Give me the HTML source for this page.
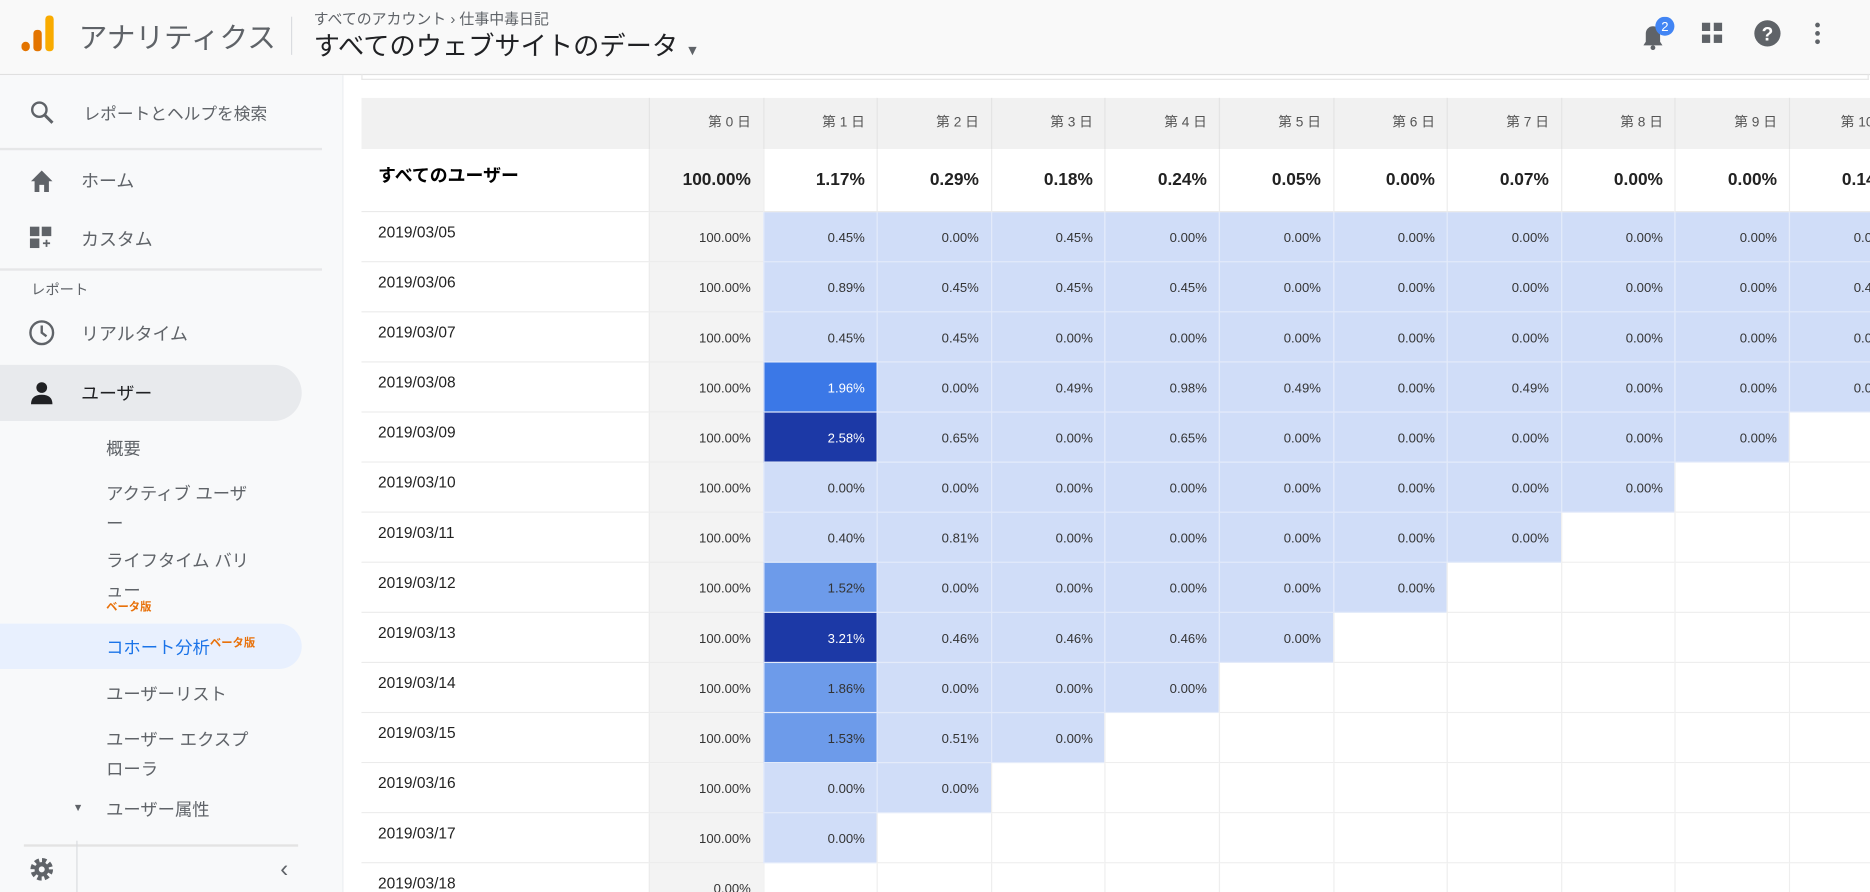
<!DOCTYPE html>
<html><head><meta charset="utf-8">
<style>
html,body{margin:0;padding:0;width:1870px;height:892px;overflow:hidden;background:#fff;}
#wrap{position:absolute;left:0;top:0;width:1568px;height:748px;transform:scale(1.19260,1.19251);transform-origin:0 0;font-family:"Liberation Sans","Noto Sans CJK JP",sans-serif;color:#202124;}
.a{position:absolute;white-space:nowrap;}
.nav{font-size:15px;color:#5f6368;}
.sub{font-size:14.5px;color:#5f6368;}
.cell{position:absolute;box-sizing:border-box;font-size:11px;text-align:right;padding-right:10px;color:#333;}
</style></head><body>
<div id="wrap">
<!-- header -->
<div class="a" style="left:0;top:0;width:1568px;height:62px;background:#f9f9f9;border-bottom:1px solid #e0e0e0;"></div>
<svg class="a" style="left:18px;top:13px" width="30" height="32"><rect x="0" y="22" width="7" height="8" rx="3.5" fill="#e37400"/><rect x="10" y="12" width="7" height="18" rx="3" fill="#e37400"/><rect x="20" y="0" width="7" height="30" rx="3" fill="#f9ab00"/></svg>
<div class="a" style="left:66px;top:12px;font-size:24px;color:#5f6368;">アナリティクス</div>
<div class="a" style="left:244px;top:14px;width:1px;height:32px;background:#dadce0;"></div>
<div class="a" style="left:263px;top:5px;font-size:12.5px;color:#5f6368;">すべてのアカウント › 仕事中毒日記</div>
<div class="a" style="left:263px;top:21px;font-size:22px;color:#202124;">すべてのウェブサイトのデータ <span style="font-size:12px;color:#5f6368">▼</span></div>
<svg class="a" style="left:1374px;top:14px" width="32" height="28"><path d="M4 24h16l-2-3v-7a6 6 0 0 0-12 0v7z" fill="#5f6368"/><circle cx="12" cy="26" r="2" fill="#5f6368"/><circle cx="22" cy="8" r="8" fill="#4285f4"/><text x="22" y="12" font-size="11" fill="#fff" text-anchor="middle" font-family="Liberation Sans">2</text></svg>
<svg class="a" style="left:1427px;top:19px" width="18" height="18"><rect x="0" y="0" width="7" height="7" fill="#5f6368"/><rect x="10" y="0" width="7" height="7" fill="#5f6368"/><rect x="0" y="10" width="7" height="7" fill="#5f6368"/><rect x="10" y="10" width="7" height="7" fill="#5f6368"/></svg>
<svg class="a" style="left:1470px;top:16px" width="24" height="24"><circle cx="12" cy="12" r="11" fill="#5f6368"/><text x="12" y="18" font-size="16" font-weight="bold" fill="#fff" text-anchor="middle" font-family="Liberation Sans">?</text></svg>
<svg class="a" style="left:1520px;top:18px" width="8" height="20"><circle cx="4" cy="3" r="2" fill="#5f6368"/><circle cx="4" cy="10" r="2" fill="#5f6368"/><circle cx="4" cy="17" r="2" fill="#5f6368"/></svg>
<!-- sidebar -->
<div class="a" style="left:0;top:63px;width:287px;height:685px;background:#f8f9fa;border-right:1px solid #eceff1;"></div>
<svg class="a" style="left:25px;top:84px" width="22" height="22"><circle cx="8" cy="8" r="6" fill="none" stroke="#5f6368" stroke-width="2"/><line x1="12.5" y1="12.5" x2="19" y2="19" stroke="#5f6368" stroke-width="2.5"/></svg>
<div class="a sub" style="left:70px;top:85px;font-size:14px;">レポートとヘルプを検索</div>
<div class="a" style="left:0;top:124px;width:270px;height:2px;background:#e6e7e8;"></div>
<svg class="a" style="left:25px;top:142px" width="20" height="20"><path d="M10 1 L19 10 H16 V19 H12 V13 H8 V19 H4 V10 H1Z" fill="#5f6368"/></svg>
<div class="a nav" style="left:68px;top:141px;">ホーム</div>
<svg class="a" style="left:25px;top:190px" width="20" height="20"><rect x="0" y="0" width="8" height="8" fill="#5f6368"/><rect x="10" y="0" width="8" height="8" fill="#5f6368"/><rect x="0" y="10" width="8" height="8" fill="#5f6368"/><path d="M14 11v6M11 14h6" stroke="#5f6368" stroke-width="1.5"/></svg>
<div class="a nav" style="left:68px;top:190px;">カスタム</div>
<div class="a" style="left:0;top:225px;width:270px;height:2px;background:#e6e7e8;"></div>
<div class="a" style="left:26px;top:234px;font-size:12px;color:#5f6368;">レポート</div>
<svg class="a" style="left:24px;top:268px" width="22" height="22"><circle cx="11" cy="11" r="9.5" fill="none" stroke="#5f6368" stroke-width="2"/><path d="M11 5v6l4 3" fill="none" stroke="#5f6368" stroke-width="2"/></svg>
<div class="a nav" style="left:68px;top:269px;">リアルタイム</div>
<div class="a" style="left:0;top:306px;width:253px;height:47px;background:#e8eaed;border-radius:0 24px 24px 0;"></div>
<svg class="a" style="left:26px;top:320px" width="18" height="20"><circle cx="9" cy="5" r="4.5" fill="#202124"/><path d="M0 19 Q0 11 9 11 Q18 11 18 19Z" fill="#202124"/></svg>
<div class="a nav" style="left:68px;top:319px;color:#202124;">ユーザー</div>
<div class="a sub" style="left:89px;top:365px;">概要</div>
<div class="a sub" style="left:89px;top:403px;line-height:25px;">アクティブ ユーザ<br>ー</div>
<div class="a sub" style="left:89px;top:459px;line-height:25px;">ライフタイム バリ<br>ュー</div>
<div class="a" style="left:89px;top:501px;font-size:9.5px;color:#e8710a;font-weight:bold;">ベータ版</div>
<div class="a" style="left:0;top:523px;width:253px;height:38px;background:#e8f0fe;border-radius:0 20px 20px 0;"></div>
<div class="a" style="left:89px;top:531px;font-size:14.5px;color:#1a73e8;">コホート分析<sup style="font-size:9.5px;color:#e8710a;font-weight:bold;">ベータ版</sup></div>
<div class="a sub" style="left:89px;top:571px;">ユーザーリスト</div>
<div class="a sub" style="left:89px;top:609px;line-height:25px;">ユーザー エクスプ<br>ローラ</div>
<div class="a" style="left:61px;top:672px;font-size:9px;color:#5f6368;">▼</div>
<div class="a sub" style="left:89px;top:668px;">ユーザー属性</div>
<div class="a" style="left:20px;top:708px;width:230px;height:2px;background:#e3e3e3;"></div>
<div class="a" style="left:64px;top:705px;width:1px;height:43px;background:#dadce0;"></div>
<svg class="a" style="left:24px;top:718px" width="22" height="22"><circle cx="11" cy="11" r="7" fill="none" stroke="#5f6368" stroke-width="5" stroke-dasharray="3.3 2.2"/><circle cx="11" cy="11" r="6" fill="#5f6368"/><circle cx="11" cy="11" r="2.5" fill="#f8f9fa"/></svg>
<div class="a" style="left:235px;top:718px;font-size:20px;color:#5f6368;">‹</div>
<!-- main -->
<div class="a" style="left:303px;top:62px;width:1262px;height:4px;border:1px solid #e6e6e6;border-top:none;"></div>
<div id="table" class="a" style="left:303px;top:82px;width:1265px;height:666px;overflow:hidden;"></div>
</div>
<script>
const dayLabels=["第 0 日","第 1 日","第 2 日","第 3 日","第 4 日","第 5 日","第 6 日","第 7 日","第 8 日","第 9 日","第 10 日"];
const summaryValues=[100.00,1.17,0.29,0.18,0.24,0.05,0.00,0.07,0.00,0.00,0.14];
const cohortDates=["2019/03/05","2019/03/06","2019/03/07","2019/03/08","2019/03/09","2019/03/10","2019/03/11","2019/03/12","2019/03/13","2019/03/14","2019/03/15","2019/03/16","2019/03/17","2019/03/18"];
const row0305=[100,0.45,0,0.45,0,0,0,0,0,0,0];
const row0306=[100,0.89,0.45,0.45,0.45,0,0,0,0,0,0.45];
const row0307=[100,0.45,0.45,0,0,0,0,0,0,0,0];
const row0308=[100,1.96,0,0.49,0.98,0.49,0,0.49,0,0,0];
const row0309=[100,2.58,0.65,0,0.65,0,0,0,0,0];
const row0310=[100,0,0,0,0,0,0,0,0];
const row0311=[100,0.40,0.81,0,0,0,0,0];
const row0312=[100,1.52,0,0,0,0,0];
const row0313=[100,3.21,0.46,0.46,0.46,0];
const row0314=[100,1.86,0,0,0];
const row0315=[100,1.53,0.51,0];
const row0316=[100,0,0];
const row0317=[100,0];
const row0318=[0];
const cohortRows=[row0305,row0306,row0307,row0308,row0309,row0310,row0311,row0312,row0313,row0314,row0315,row0316,row0317,row0318];

const T=document.getElementById('table');
const firstW=241,colW=95.6,headH=43,sumH=53,rowH=42;
function colX(i){return firstW+i*colW;}
function rowY(r){return headH+sumH+r*rowH;}
function color(v){if(v<1)return '#d0ddf8';if(v<1.9)return '#6d9bea';if(v<2.2)return '#3b78e7';return '#1c39a6';}
function mk(x,y,w,h,bg,text,extra){
  const d=document.createElement('div');d.className='cell';
  d.style.left=x+'px';d.style.top=y+'px';d.style.width=w+'px';d.style.height=h+'px';
  d.style.background=bg;if(text!=null)d.textContent=text;
  if(extra)Object.assign(d.style,extra);T.appendChild(d);return d;}
// header
let h=mk(0,0,1265,headH,'#f1f1f1',null);


dayLabels.forEach((l,i)=>{
  const d=mk(colX(i),0,colW,headH,'transparent',l,{lineHeight:headH+'px',fontSize:'11.5px',color:'#555',borderLeft:'1px solid #e4e4e4'});
  
  
});
// summary
let sl=mk(0,headH,firstW,sumH,'#fff','すべてのユーザー',{textAlign:'left',paddingLeft:'14px',paddingTop:'11px',fontSize:'15px',fontWeight:'bold',color:'#000',borderBottom:'1px solid #e8e8e8'});


summaryValues.forEach((v,i)=>{
  const d=mk(colX(i),headH,colW,sumH,i===0?'#f3f3f3':'#fff',v.toFixed(2)+'%',{lineHeight:sumH+'px',fontSize:'14.5px',fontWeight:'bold',color:'#222',borderLeft:'1px solid #ececec',borderBottom:'1px solid #e8e8e8'});
  
  
});
// rows
cohortDates.forEach((dt,r)=>{
  const y=rowY(r);
  const dl=mk(0,y,firstW,rowH,'#fff',dt,{textAlign:'left',paddingLeft:'14px',paddingTop:'9px',fontSize:'13px',color:'#222',borderBottom:'1px solid #ebebeb'});
  
  
  const vals=cohortRows[r];
  for(let i=0;i<dayLabels.length;i++){
    let d;
    if(i<vals.length){
      const v=vals[i];
      const bg=i===0?'#f3f3f3':color(v);
      const dark=i>0&&v>=1.9;
      d=mk(colX(i),y,colW,rowH,bg,v.toFixed(2)+'%',{lineHeight:(rowH+2)+'px',color:dark?'#fff':'#333',borderLeft:i===0?'1px solid #ececec':'1px solid #e4ebfa',borderBottom:i===0?'1px solid #ebebeb':'1px solid #e4ebfa'});
      
    }else{
      d=mk(colX(i),y,colW,rowH,'#fff',null,{borderLeft:'1px solid #eeeeee',borderBottom:'1px solid #eeeeee'});
      
    }
    
  }
});
</script>
</body></html>
